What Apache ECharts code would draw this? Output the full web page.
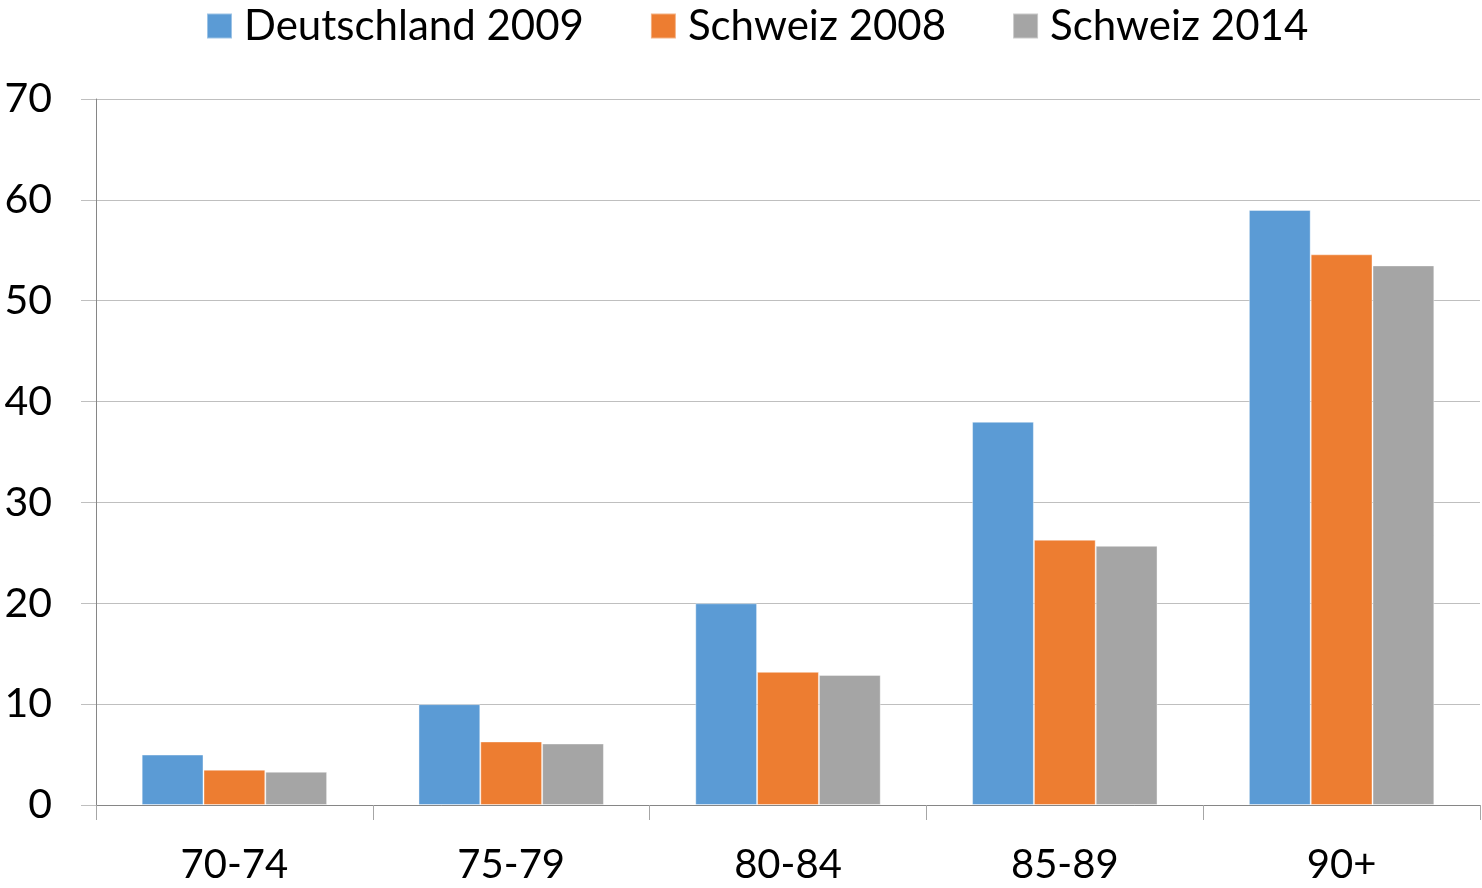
<!DOCTYPE html>
<html>
<head>
<meta charset="utf-8">
<script src="https://cdn.jsdelivr.net/npm/echarts@6/dist/echarts.min.js"></script>
<style>
    html, body { margin: 0; padding: 0; background: #fff; }
    #chart { width: 1482px; height: 888px; }
</style>
</head>
<body>
<div id="chart"></div>
<script>
// Altersgruppen und Werte
var categories = ['70-74', '75-79', '80-84', '85-89', '90+'];
var deutschland2009 = [5, 10, 20, 38, 59];
var schweiz2008 = [3.5, 6.3, 13.2, 26.3, 54.6];
var schweiz2014 = [3.3, 6.1, 12.9, 25.7, 53.5];
var seriesNames = ['Deutschland 2009', 'Schweiz 2008', 'Schweiz 2014'];
var colorList = ['#5b9bd5', '#ed7d31', '#a5a5a5'];

var fontName = 'Lato';
var chart = echarts.init(document.getElementById('chart'));

var seriesData = [deutschland2009, schweiz2008, schweiz2014];
var seriesArr = [];
seriesData.forEach(function (v, i) {
    seriesArr.push({
        name: seriesNames[i],
        type: 'bar',
        barGap: '0%',
        barCategoryGap: '33%',
        itemStyle: {
            color: colorList[i],
            borderColor: 'rgba(255,255,255,0.4)',
            borderWidth: 1
        },
        data: v
    });
});

var option = {
    animation: false,
    color: colorList,
    legend: {
        top: 0,
        left: 201,
        itemWidth: 25,
        itemHeight: 25,
        itemGap: 66,
        icon: 'rect',
        textStyle: {
            fontFamily: fontName,
            fontSize: 42,
            color: '#000',
            padding: [0, 0, 0, 7]
        },
        data: seriesNames
    },
    grid: {
        left: 96,
        right: 2,
        top: 99,
        bottom: 83,
        containLabel: false
    },
    xAxis: {
        type: 'category',
        data: categories,
        axisLine: { lineStyle: { color: '#868686', width: 1 } },
        axisTick: { show: true, length: 15, lineStyle: { color: '#a6a6a6' } },
        axisLabel: {
            margin: 40,
            fontFamily: fontName,
            fontSize: 40,
            color: '#000'
        }
    },
    yAxis: {
        type: 'value',
        min: 0,
        max: 70,
        interval: 10,
        axisLine: { show: true, lineStyle: { color: '#868686', width: 1 } },
        axisTick: { show: true, length: 15, lineStyle: { color: '#bfbfbf' } },
        splitLine: { lineStyle: { color: '#bfbfbf', width: 1 } },
        axisLabel: {
            margin: 44,
            fontFamily: fontName,
            fontSize: 41,
            color: '#000'
        }
    },
    series: seriesArr
};
chart.setOption(option);
</script>
</body>
</html>
